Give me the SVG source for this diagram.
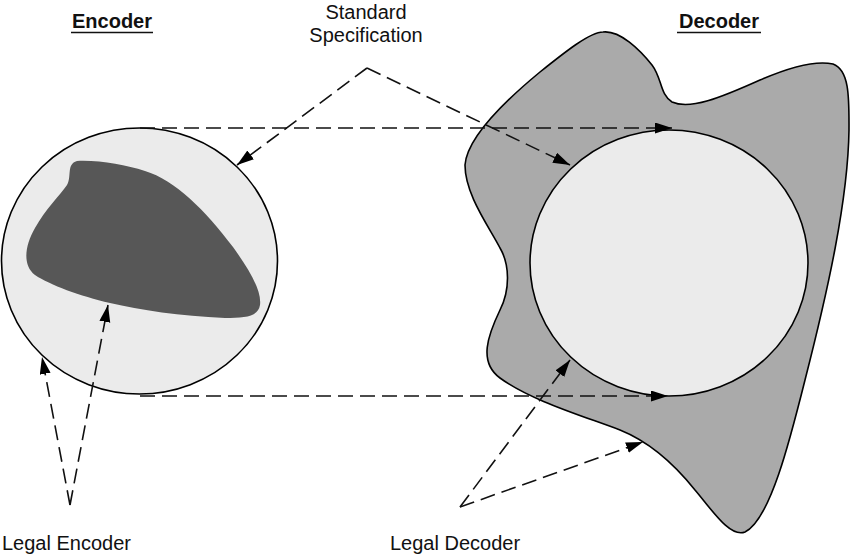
<svg xmlns="http://www.w3.org/2000/svg" width="850" height="555" viewBox="0 0 850 555">
<style>
.lbl{font-family:"Liberation Sans",Arial,sans-serif;font-size:20px;fill:#111}
.ttl{font-family:"Liberation Sans",Arial,sans-serif;font-size:20px;font-weight:bold;fill:#111}
.ul{stroke:#111;stroke-width:1.6}
.dash{fill:none;stroke:#111;stroke-width:1.6;stroke-dasharray:15 7}
.edge{stroke:#000;stroke-width:1.6}
</style>
<defs>
<marker id="ah" markerUnits="userSpaceOnUse" markerWidth="18" markerHeight="12" refX="17" refY="5.5" orient="auto">
<path d="M0,0 L17,5.5 L0,11 z" fill="#000"/>
</marker>
</defs>
<g id="encoder">
<ellipse class="edge" cx="139.5" cy="261" rx="138" ry="133" fill="#ebebeb"/>
<path id="encoder-core" d="M77,161 C100,160 125,165 145,171 C175,180 205,210 233,247 C248,268 262,290 260,305 C258,317 245,318 225,318 C180,316 140,310 110,303 C80,296 50,285 35,275 C22,265 25,245 35,228 C45,210 60,195 67,185 C72,177 66,164 77,161 Z" fill="#575757"/>
</g>
<g id="decoder">
<path class="edge" d="M603,32 C620,30 640,50 652,65 C662,78 660,95 672,102 C690,110 720,98 760,80 C790,67 815,60 833,64 C850,70 849,100 849,130 C848,200 828,290 805,380 C790,440 770,520 745,532 C730,538 712,510 695,490 C675,465 650,442 620,430 C580,415 530,400 500,378 C478,362 488,335 500,310 C510,290 510,265 500,248 C490,228 465,195 465,165 C467,140 500,105 540,72 C565,52 590,32 603,32 Z" fill="#aaaaaa"/>
<ellipse class="edge" cx="669" cy="263" rx="139" ry="133" fill="#ebebeb"/>
</g>
<g id="labels">
<text class="ttl" x="112" y="28" text-anchor="middle">Encoder</text>
<line class="ul" x1="71" y1="32.5" x2="153" y2="32.5"/>
<text class="ttl" x="719" y="28" text-anchor="middle">Decoder</text>
<line class="ul" x1="677" y1="32.5" x2="761" y2="32.5"/>
<text class="lbl" x="366" y="19" text-anchor="middle">Standard</text>
<text class="lbl" x="366" y="42" text-anchor="middle">Specification</text>
<text class="lbl" x="2" y="550">Legal Encoder</text>
<text class="lbl" x="390" y="550">Legal Decoder</text>
</g>
<g id="connectors">
<line class="dash" x1="140" y1="128" x2="672" y2="128" marker-end="url(#ah)"/>
<line class="dash" x1="140" y1="396" x2="668" y2="396" marker-end="url(#ah)"/>
<line class="dash" x1="367" y1="68" x2="237" y2="165" marker-end="url(#ah)"/>
<line class="dash" x1="367" y1="68" x2="570" y2="165" marker-end="url(#ah)"/>
<line class="dash" x1="70" y1="505" x2="42" y2="357" marker-end="url(#ah)"/>
<line class="dash" x1="70" y1="505" x2="108" y2="305" marker-end="url(#ah)"/>
<line class="dash" x1="460" y1="507" x2="570" y2="360" marker-end="url(#ah)"/>
<line class="dash" x1="460" y1="507" x2="643" y2="442" marker-end="url(#ah)"/>
</g>
</svg>
